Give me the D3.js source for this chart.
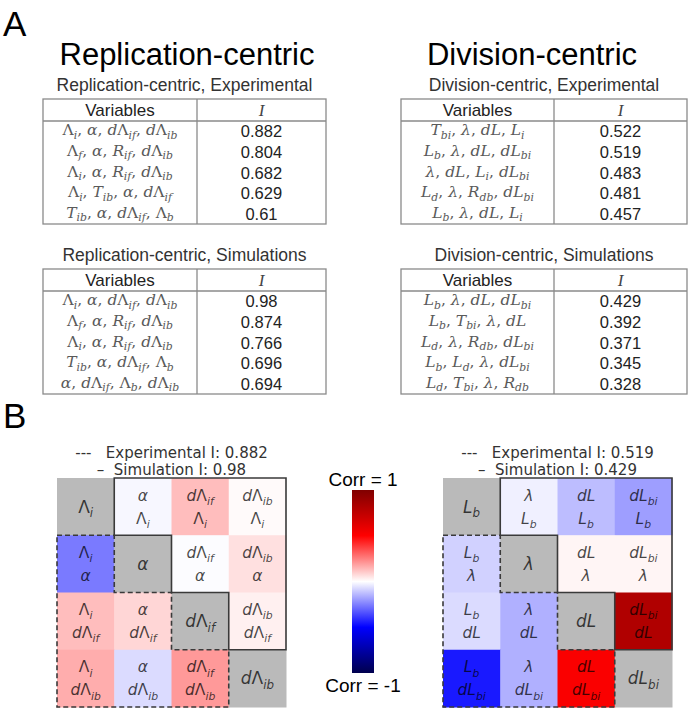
<!DOCTYPE html>
<html><head><meta charset="utf-8">
<script src="https://cdn.jsdelivr.net/npm/d3@7"></script>
<style>body{margin:0;background:#fff}text{white-space:pre}</style>
</head><body><svg id="c" width="695" height="713"></svg>
<script>
// ---------- DATA ----------
const tableHeaders = ["Variables", "I"];
const repExpVars = ["Λ_i, α, dΛ_{if}, dΛ_{ib}", "Λ_f, α, R_{if}, dΛ_{ib}", "Λ_i, α, R_{if}, dΛ_{ib}", "Λ_i, T_{ib}, α, dΛ_{if}", "T_{ib}, α, dΛ_{if}, Λ_b"];
const repExpI = ["0.882", "0.804", "0.682", "0.629", "0.61"];
const repSimVars = ["Λ_i, α, dΛ_{if}, dΛ_{ib}", "Λ_f, α, R_{if}, dΛ_{ib}", "Λ_i, α, R_{if}, dΛ_{ib}", "T_{ib}, α, dΛ_{if}, Λ_b", "α, dΛ_{if}, Λ_b, dΛ_{ib}"];
const repSimI = ["0.98", "0.874", "0.766", "0.696", "0.694"];
const divExpVars = ["T_{bi}, λ, dL, L_i", "L_b, λ, dL, dL_{bi}", "λ, dL, L_i, dL_{bi}", "L_d, λ, R_{db}, dL_{bi}", "L_b, λ, dL, L_i"];
const divExpI = ["0.522", "0.519", "0.483", "0.481", "0.457"];
const divSimVars = ["L_b, λ, dL, dL_{bi}", "L_b, T_{bi}, λ, dL", "L_d, λ, R_{db}, dL_{bi}", "L_b, L_d, λ, dL_{bi}", "L_d, T_{bi}, λ, R_{db}"];
const divSimI = ["0.429", "0.392", "0.371", "0.345", "0.328"];

const repVars = ["Λ_i", "α", "dΛ_{if}", "dΛ_{ib}"];
const repCorr = [
  [null, -0.015, 0.13, 0.01],
  [-0.26, null, -0.005, 0.06],
  [0.13, 0.08, null, 0.03],
  [0.16, -0.07, 0.2, null]
];
const repLegend = ["---   Experimental I: 0.882", "–  Simulation I: 0.98"];

const divVars = ["L_b", "λ", "dL", "dL_{bi}"];
const divCorr = [
  [null, -0.03, -0.13, -0.19],
  [-0.09, null, 0.02, 0.02],
  [-0.07, -0.155, null, 0.81],
  [-0.45, -0.155, 0.52, null]
];
const divLegend = ["---   Experimental I: 0.519", "–  Simulation I: 0.429"];

const cbLabels = ["Corr = 1", "Corr = -1"];

// ---------- HELPERS ----------
const svg = d3.select("#c");
const SANS = "'Liberation Sans', Arial, Helvetica, sans-serif";
const SERIF = "'DejaVu Serif', 'Liberation Serif', serif";
const DJ = "'DejaVu Sans', sans-serif";

function parseMath(str) {
  const re = /_\{([^}]*)\}|_(.)|([^_])/g; let m; const parts = [];
  while ((m = re.exec(str))) {
    if (m[1] !== undefined) parts.push({t: m[1], sub: true});
    else if (m[2] !== undefined) parts.push({t: m[2], sub: true});
    else {
      const last = parts[parts.length - 1];
      const up = /[Λ, ]/.test(m[3]);
      if (last && !last.sub && last.up === up) last.t += m[3];
      else parts.push({t: m[3], sub: false, up});
    }
  }
  return parts;
}
function mathText(txt, str, fs, drop) {
  const parts = parseMath(str);
  const d = fs * (drop || 0.28);
  let down = false;
  parts.forEach(p => {
    const ts = txt.append("tspan").text(p.t);
    if (p.sub) {
      ts.attr("font-size", fs * 0.7).attr("font-style", "italic");
      if (!down) { ts.attr("dy", d); down = true; }
    } else {
      ts.attr("font-size", fs).attr("font-style", p.up ? "normal" : "italic");
      if (down) { ts.attr("dy", -d); down = false; }
    }
  });
}

// ---------- PANEL LABELS / TITLES ----------
svg.append("text").attr("x", 3).attr("y", 36).attr("font-family", SANS).attr("font-size", 35).text("A");
svg.append("text").attr("x", 3).attr("y", 428).attr("font-family", SANS).attr("font-size", 35).text("B");
svg.append("text").attr("x", 187).attr("y", 65).attr("text-anchor", "middle").attr("font-family", SANS).attr("font-size", 31).text("Replication-centric");
svg.append("text").attr("x", 532).attr("y", 65).attr("text-anchor", "middle").attr("font-family", SANS).attr("font-size", 31).text("Division-centric");

// ---------- TABLES ----------
function drawTable(x0, x1, xd, y0, title, vars, vals) {
  const headH = 22, rowH = 20.6;
  const g = svg.append("g");
  const y = d3.scaleBand().domain(d3.range(vars.length)).range([y0 + headH, y0 + headH + rowH * vars.length]);
  const yb = y0 + headH + rowH * vars.length;
  g.append("text").attr("x", (x0 + x1) / 2).attr("y", y0 - 8).attr("text-anchor", "middle")
    .attr("font-family", SANS).attr("font-size", 17.5).attr("fill", "#333").text(title);
  g.append("rect").attr("x", x0).attr("y", y0).attr("width", x1 - x0).attr("height", yb - y0)
    .attr("fill", "none").attr("stroke", "#8a8a8a").attr("stroke-width", 1.3);
  g.append("line").attr("x1", x0).attr("x2", x1).attr("y1", y0 + headH).attr("y2", y0 + headH).attr("stroke", "#8a8a8a").attr("stroke-width", 1.3);
  g.append("line").attr("x1", xd).attr("x2", xd).attr("y1", y0).attr("y2", yb).attr("stroke", "#8a8a8a").attr("stroke-width", 1.3);
  g.append("text").attr("x", (x0 + xd) / 2).attr("y", y0 + headH / 2).attr("dy", "0.35em").attr("text-anchor", "middle")
    .attr("font-family", SANS).attr("font-size", 17).attr("fill", "#222").text(tableHeaders[0]);
  g.append("text").attr("x", (xd + x1) / 2).attr("y", y0 + headH / 2).attr("dy", "0.35em").attr("text-anchor", "middle")
    .attr("font-family", "'Liberation Serif', serif").attr("font-style", "italic").attr("font-size", 17).attr("fill", "#444").text(tableHeaders[1]);
  vars.forEach((v, i) => {
    const t = g.append("text").attr("x", (x0 + xd) / 2).attr("y", y(i) + y.bandwidth() / 2 + 4)
      .attr("text-anchor", "middle").attr("font-family", SERIF).attr("fill", "#5a5a5a");
    mathText(t, v, 15.5, 0.22);
  });
  g.selectAll("text.val").data(vals).join("text").attr("class", "val")
    .attr("x", (xd + x1) / 2).attr("y", (d, i) => y(i) + y.bandwidth() / 2 + 6)
    .attr("text-anchor", "middle").attr("font-family", SANS).attr("font-size", 16.5).attr("fill", "#222").text(d => d);
}
drawTable(43, 326, 197, 99, "Replication-centric, Experimental", repExpVars, repExpI);
drawTable(43, 326, 197, 269, "Replication-centric, Simulations", repSimVars, repSimI);
drawTable(401, 687, 554, 99, "Division-centric, Experimental", divExpVars, divExpI);
drawTable(401, 687, 554, 269, "Division-centric, Simulations", divSimVars, divSimI);

// ---------- HEATMAPS ----------
const color = d3.scaleLinear().domain([-1, -0.5, 0, 0.5, 1])
  .range(["#00004d", "#0000ff", "#ffffff", "#ff0000", "#800000"]);

function drawHeat(x0, y0, size, vars, corr, legend) {
  const g = svg.append("g");
  const n = vars.length;
  const x = d3.scaleBand().domain(d3.range(n)).range([x0, x0 + size]);
  const y = d3.scaleBand().domain(d3.range(n)).range([y0, y0 + size]);
  const cells = [];
  corr.forEach((row, r) => row.forEach((v, c) => cells.push({r, c, v})));
  g.selectAll("rect.cell").data(cells).join("rect").attr("class", "cell")
    .attr("x", d => x(d.c)).attr("y", d => y(d.r)).attr("width", x.bandwidth() + 0.5).attr("height", y.bandwidth() + 0.5)
    .attr("fill", d => d.v === null ? "#bababa" : color(d.v));
  const tcol = (t) => t.attr("text-anchor", "middle").attr("font-family", DJ).attr("fill", "#000").attr("fill-opacity", 0.72);
  cells.forEach(d => {
    const cx = x(d.c) + x.bandwidth() / 2, cy = y(d.r) + y.bandwidth() / 2;
    if (d.r === d.c) {
      const t = g.append("text").attr("x", cx).attr("y", cy + 6).call(tcol);
      mathText(t, vars[d.r], 17);
    } else {
      const t1 = g.append("text").attr("x", cx).attr("y", cy - 6).call(tcol);
      mathText(t1, vars[d.c], 15.5);
      const t2 = g.append("text").attr("x", cx).attr("y", cy + 17).call(tcol);
      mathText(t2, vars[d.r], 15.5);
    }
  });
  const xe = x0 + size, ye = y0 + size;
  const solidPts = [[x(1), y(0)], [xe, y(0)], [xe, y(n - 1)]];
  for (let k = n - 1; k >= 1; k--) { solidPts.push([x(k), y(k)]); solidPts.push([x(k), y(k - 1)]); }
  g.append("path").attr("d", d3.line()(solidPts) + "Z").attr("fill", "none").attr("stroke", "#3a3a3a").attr("stroke-width", 1.6);
  const dashPts = [[x0, y(1)]];
  for (let k = 1; k <= n - 1; k++) { dashPts.push([x(k), y(k)]); dashPts.push([x(k), k < n - 1 ? y(k + 1) : ye]); }
  dashPts.push([x0, ye]);
  g.append("path").attr("d", d3.line()(dashPts) + "Z").attr("fill", "none").attr("stroke", "#3a3a3a").attr("stroke-width", 1.6).attr("stroke-dasharray", "5,3");
  legend.forEach((l, i) => {
    g.append("text").attr("x", x0 + size / 2).attr("y", y0 - 20 + i * 17).attr("text-anchor", "middle")
      .attr("font-family", DJ).attr("font-size", 15).attr("fill", "#333").text(l);
  });
}
drawHeat(57, 478, 229, repVars, repCorr, repLegend);
drawHeat(443, 478, 229, divVars, divCorr, divLegend);

// ---------- COLORBAR ----------
const defs = svg.append("defs");
const grad = defs.append("linearGradient").attr("id", "cb").attr("x1", 0).attr("x2", 0).attr("y1", 0).attr("y2", 1);
const cbStops = d3.range(0, 1.0001, 0.05);
grad.selectAll("stop").data(cbStops).join("stop").attr("offset", d => d).attr("stop-color", d => color(1 - 2 * d));
const cbScale = d3.scaleLinear().domain([1, -1]).range([490, 673]);
svg.append("rect").attr("x", 352).attr("y", cbScale(1)).attr("width", 22).attr("height", cbScale(-1) - cbScale(1)).attr("fill", "url(#cb)");
svg.append("text").attr("x", 363).attr("y", cbScale(1) - 4).attr("text-anchor", "middle").attr("font-family", SANS).attr("font-size", 19).text(cbLabels[0]);
svg.append("text").attr("x", 363).attr("y", cbScale(-1) + 19).attr("text-anchor", "middle").attr("font-family", SANS).attr("font-size", 19).text(cbLabels[1]);
</script></body></html>
